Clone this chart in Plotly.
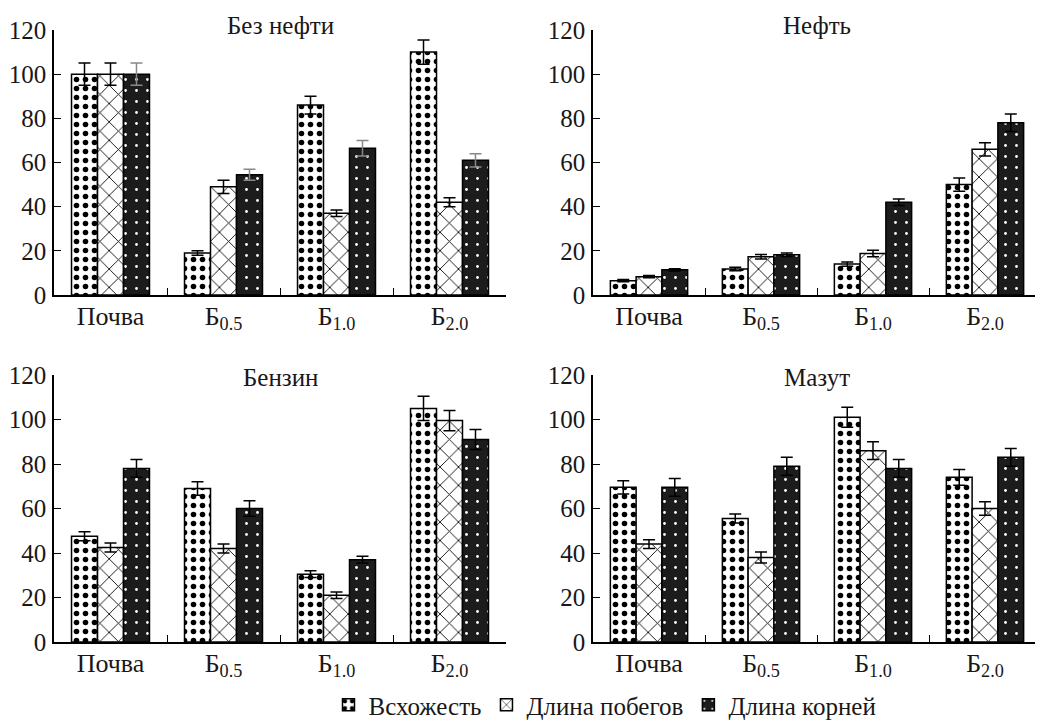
import plotly.graph_objects as go

categories = ["Почва", "Б<sub>0.5</sub>", "Б<sub>1.0</sub>", "Б<sub>2.0</sub>"]
series_names = ["Всхожесть", "Длина побегов", "Длина корней"]
panel_titles = ["Без нефти", "Нефть", "Бензин", "Мазут"]

# Без нефти
bez_vsh = [100, 19, 86, 110]
bez_vsh_err = [5, 1, 4, 5.5]
bez_pob = [100, 49, 37, 42]
bez_pob_err = [5, 3, 1.5, 2]
bez_kor = [100, 54.5, 66.5, 61]
bez_kor_err = [5, 2.5, 3.5, 3]

# Нефть
neft_vsh = [6.5, 11.8, 14, 50]
neft_vsh_err = [0.5, 0.8, 1, 3]
neft_pob = [8.3, 17.3, 18.8, 66]
neft_pob_err = [0.5, 1, 1.5, 3]
neft_kor = [11.4, 18.2, 42, 78]
neft_kor_err = [0.5, 0.8, 1.5, 4]

# Бензин
benz_vsh = [47.5, 69, 30.5, 105]
benz_vsh_err = [2, 3, 1.5, 5.5]
benz_pob = [42.5, 42, 21, 99.5]
benz_pob_err = [2, 2, 1.5, 4.5]
benz_kor = [78, 60, 37, 91]
benz_kor_err = [4, 3.5, 1.5, 4.5]

# Мазут
maz_vsh = [69.5, 55.5, 101, 74]
maz_vsh_err = [3, 2, 4.5, 3.5]
maz_pob = [44, 38, 86, 60]
maz_pob_err = [2, 2.5, 4, 3]
maz_kor = [69.5, 79, 78, 83]
maz_kor_err = [4, 4, 4, 4]

panels = [
    (bez_vsh, bez_vsh_err, bez_pob, bez_pob_err, bez_kor, bez_kor_err),
    (neft_vsh, neft_vsh_err, neft_pob, neft_pob_err, neft_kor, neft_kor_err),
    (benz_vsh, benz_vsh_err, benz_pob, benz_pob_err, benz_kor, benz_kor_err),
    (maz_vsh, maz_vsh_err, maz_pob, maz_pob_err, maz_kor, maz_kor_err),
]

W, H = 1043, 724
OFF = 8  # page offset compensation
FONT = "Liberation Serif"
TXT = "#1a1718"

def px_x(v):
    return (v - OFF) / W

def px_y(v):
    return (H - (v - OFF)) / H

xdomains = [[px_x(54), px_x(506)], [px_x(593), px_x(1041)]]
ydomains = [[px_y(295), px_y(30)], [px_y(642), px_y(375)]]

patterns = [
    dict(shape=".", bgcolor="white", fgcolor="black", size=9, solidity=0.3, fillmode="replace"),
    dict(shape="x", bgcolor="white", fgcolor="black", size=13, solidity=0.13, fillmode="replace"),
    dict(shape=".", bgcolor="#1c1c1c", fgcolor="white", size=11, solidity=0.05, fillmode="replace"),
]

fig = go.Figure()
for p, data in enumerate(panels):
    xa = "x" if p == 0 else f"x{p + 1}"
    ya = "y" if p == 0 else f"y{p + 1}"
    for s in range(3):
        vals = data[2 * s]
        errs = data[2 * s + 1]
        ecol = "#888888" if (p == 0 and s == 2) else "black"
        fig.add_trace(go.Bar(
            x=categories, y=vals, name=series_names[s],
            xaxis=xa, yaxis=ya,
            legendgroup=series_names[s], showlegend=(p == 0),
            marker=dict(color=patterns[s]["bgcolor"], pattern=patterns[s],
                        line=dict(color="black", width=1.5)),
            error_y=dict(type="data", array=errs, visible=True, color=ecol,
                         thickness=1.5, width=6),
        ))

layout = dict(
    width=W, height=H,
    margin=dict(l=0, r=0, t=0, b=0, autoexpand=False),
    paper_bgcolor="white", plot_bgcolor="white",
    barmode="group", bargap=0.31, bargroupgap=0,
    font=dict(family=FONT, size=26, color=TXT),
    legend=dict(orientation="h", x=px_x(605), xanchor="center", y=px_y(705), yanchor="middle",
                font=dict(family=FONT, size=25, color=TXT), traceorder="normal",
                itemwidth=30),
    annotations=[],
)

for p in range(4):
    r, c = divmod(p, 2)
    xk = "xaxis" if p == 0 else f"xaxis{p + 1}"
    yk = "yaxis" if p == 0 else f"yaxis{p + 1}"
    ya_name = "y" if p == 0 else f"y{p + 1}"
    xa_name = "x" if p == 0 else f"x{p + 1}"
    layout[xk] = dict(
        domain=xdomains[c], anchor=ya_name, type="category",
        range=[-0.5, 3.5], showline=True, linecolor="black", linewidth=1.5,
        ticks="inside", tickson="boundaries", ticklen=7, tickwidth=1.2, tickcolor="black",
        showgrid=False, zeroline=False, ticklabelstandoff=-3,
        tickfont=dict(family=FONT, size=26, color=TXT),
    )
    layout[yk] = dict(
        domain=ydomains[r], anchor=xa_name,
        range=[0, 120], dtick=20, showline=True, linecolor="black", linewidth=1.5,
        ticks="inside", ticklen=7, tickwidth=1.2, tickcolor="black",
        showgrid=False, zeroline=False, ticklabelstandoff=1,
        tickfont=dict(family=FONT, size=25, color=TXT),
    )
    title_y = px_y(25) if r == 0 else px_y(377)
    layout["annotations"].append(dict(
        text=panel_titles[p], xref="paper", yref="paper",
        x=sum(xdomains[c]) / 2, y=title_y, xanchor="center", yanchor="middle",
        showarrow=False, font=dict(family=FONT, size=25, color=TXT),
    ))

fig.update_layout(**layout)
fig.write_html("out.html")
